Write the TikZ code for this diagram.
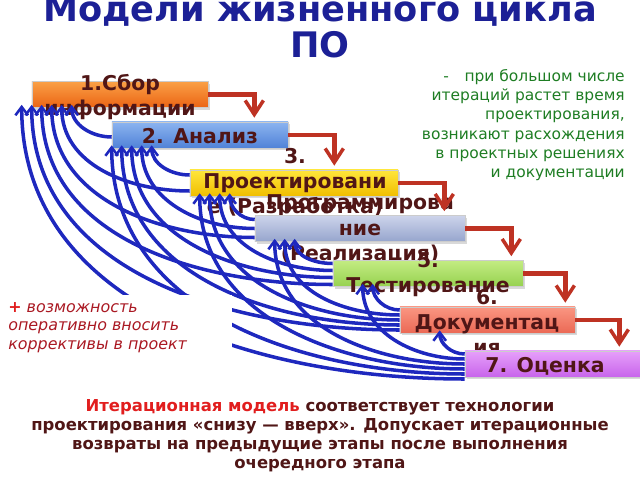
\documentclass[tikz,border=0pt]{standalone}
\usepackage{fontspec}
\setmainfont{DejaVu Sans}
\usetikzlibrary{arrows.meta,calc,shadows}

\definecolor{titleblue}{RGB}{28,32,150}
\definecolor{stagetext}{RGB}{80,22,22}
\definecolor{loopblue}{RGB}{30,40,190}
\definecolor{stepred}{RGB}{190,50,35}
\definecolor{notegreen}{RGB}{30,125,35}
\definecolor{notered}{RGB}{170,25,35}
\definecolor{hotred}{RGB}{225,30,30}

\tikzset{
  stage/.style={draw=black!20, minimum height=0.65cm, inner sep=0pt,
    drop shadow={opacity=0.3,shadow xshift=1.5pt,shadow yshift=-1.5pt}},
  stagelabel/.style={font=\bfseries\fontsize{14.5}{17.8}\selectfont, text=stagetext, align=center, inner sep=0pt},
  backloop/.style={loopblue, line width=2.5pt, -{Straight Barb[length=6pt,width=9pt,line width=1.8pt]}},
  nextstep/.style={stepred, line width=3.5pt, -{Straight Barb[length=10pt,width=13pt,line width=2.5pt]}},
}

\begin{document}
\begin{tikzpicture}[x=0.025cm,y=-0.025cm]
        \useasboundingbox (0,0) rectangle (640,480);
        \node[font=\bfseries\fontsize{25}{25.6}\selectfont, text=titleblue, align=center] (title) at (320,26.5) {Модели жизненного цикла\\ПО};
        % stages
        \node[stage, top color={rgb,255:red,250;green,160;blue,70}, bottom color={rgb,255:red,235;green,100;blue,20}, minimum width=4.4cm] (b1) at (120,94.5) {};
        \node[stagelabel] (t1) at (120,97) {1.Сбор\\информации};
        \node[stage, top color={rgb,255:red,140;green,180;blue,240}, bottom color={rgb,255:red,80;green,130;blue,215}, minimum width=4.4cm] (b2) at (200,135) {};
        \node[stagelabel] (t2) at (200,136) {2. Анализ};
        \node[stage, top color={rgb,255:red,255;green,230;blue,60}, bottom color={rgb,255:red,240;green,190;blue,0}, minimum width=5.2cm] (b3) at (294,183) {};
        \node[stagelabel] (t3) at (295,183) {3.\\Проектировани\\е (Разработка)};
        \node[stage, top color={rgb,255:red,205;green,212;blue,235}, bottom color={rgb,255:red,150;green,165;blue,205}, minimum width=5.25cm] (b4) at (360,228.5) {};
        \node[stagelabel] (t4) at (360,229) {Программирова\\ние\\(Реализация)};
        \node[stage, top color={rgb,255:red,195;green,235;blue,130}, bottom color={rgb,255:red,150;green,210;blue,80}, minimum width=4.75cm] (b5) at (428,273.5) {};
        \node[stagelabel] (t5) at (428,275) {5.\\Тестирование};
        \node[stage, top color={rgb,255:red,250;green,150;blue,130}, bottom color={rgb,255:red,235;green,105;blue,85}, minimum width=4.375cm] (b6) at (487.5,320) {};
        \node[stagelabel] (t6) at (487,322) {6.\\Документац\\ия};
        \node[stage, top color={rgb,255:red,230;green,160;blue,250}, bottom color={rgb,255:red,200;green,100;blue,235}, minimum width=4.375cm] (b7) at (552.5,364) {};
        \node[stagelabel] (t7) at (545,366) {7. Оценка};
        % forward steps
        \coordinate (r1) at ($(b1.east)+(46,0)$);
        \coordinate (r2) at ($(b2.east)+(46,0)$);
        \coordinate (r3) at ($(b3.east)+(46,0)$);
        \coordinate (r4) at ($(b4.east)+(46,0)$);
        \coordinate (r5) at ($(b5.east)+(42,0)$);
        \coordinate (r6) at ($(b6.east)+(44,0)$);
        \draw[nextstep] (b1.east) -- (r1) -- ($(r1 |- b2.north)+(0,-4)$);
        \draw[nextstep] (b2.east) -- (r2) -- ($(r2 |- b3.north)+(0,-4)$);
        \draw[nextstep] (b3.east) -- (r3) -- ($(r3 |- b4.north)+(0,-4)$);
        \draw[nextstep] (b4.east) -- (r4) -- ($(r4 |- b5.north)+(0,-4)$);
        \draw[nextstep] (b5.east) -- (r5) -- ($(r5 |- b6.north)+(0,-4)$);
        \draw[nextstep] (b6.east) -- (r6) -- ($(r6 |- b7.north)+(0,-4)$);
        % returns to earlier stages
        \draw[backloop] ($(b2.west)+(0,2)$) to[out=180,in=-90] ($(b1.south west)+(40,-3)$);
        \draw[backloop] ($(b3.west)+(0,8)$) to[out=180,in=-90] ($(b1.south west)+(30,-3)$);
        \draw[backloop] ($(b4.west)+(0,9)$) to[out=180,in=-90] ($(b1.south west)+(20,-3)$);
        \draw[backloop] ($(b5.west)+(0,11)$) to[out=180,in=-90] ($(b1.south west)+(10,-3)$);
        \draw[backloop] ($(b6.west)+(0,10)$) to[out=180,in=-90] ($(b1.south west)+(0,-3)$);
        \draw[backloop] ($(b7.west)+(0,15)$) to[out=180,in=-90] ($(b1.south west)+(-10,-3)$);
        \draw[backloop] ($(b3.west)+(0,-8)$) to[out=180,in=-90] ($(b2.south west)+(40,-3)$);
        \draw[backloop] ($(b4.west)+(0,0)$) to[out=180,in=-90] ($(b2.south west)+(30,-3)$);
        \draw[backloop] ($(b5.west)+(0,4)$) to[out=180,in=-90] ($(b2.south west)+(20,-3)$);
        \draw[backloop] ($(b6.west)+(0,5)$) to[out=180,in=-90] ($(b2.south west)+(10,-3)$);
        \draw[backloop] ($(b7.west)+(0,10)$) to[out=180,in=-90] ($(b2.south west)+(0,-3)$);
        \draw[backloop] ($(b4.west)+(0,-9)$) to[out=180,in=-90] ($(b3.south west)+(40,-3)$);
        \draw[backloop] ($(b5.west)+(0,-3)$) to[out=180,in=-90] ($(b3.south west)+(30,-3)$);
        \draw[backloop] ($(b6.west)+(0,0)$) to[out=180,in=-90] ($(b3.south west)+(20,-3)$);
        \draw[backloop] ($(b7.west)+(0,5)$) to[out=180,in=-90] ($(b3.south west)+(10,-3)$);
        \draw[backloop] ($(b5.west)+(0,-10)$) to[out=180,in=-90] ($(b4.south west)+(40,-3)$);
        \draw[backloop] ($(b6.west)+(0,-5)$) to[out=180,in=-90] ($(b4.south west)+(30,-3)$);
        \draw[backloop] ($(b7.west)+(0,0)$) to[out=180,in=-90] ($(b4.south west)+(20,-3)$);
        \draw[backloop] ($(b6.west)+(0,-10)$) to[out=180,in=-90] ($(b5.south west)+(40,-3)$);
        \draw[backloop] ($(b7.west)+(0,-5)$) to[out=180,in=-90] ($(b5.south west)+(30,-3)$);
        \draw[backloop] ($(b7.west)+(0,-10)$) to[out=180,in=-90] ($(b6.south west)+(40,-3)$);
        % notes
        \node[anchor=north east, align=right, inner sep=0pt, text=notegreen, font=\fontsize{11}{13.7}\selectfont] (cons) at (625,69) {-\hspace{1em}при большом числе\\итераций растет время\\проектирования,\\возникают расхождения\\в проектных решениях\\и документации};
        \fill[white] (0,295) rectangle (232,392);
        \node[anchor=north west, align=left, inner sep=0pt, text=notered, font=\itshape\fontsize{11.3}{13.2}\selectfont] (pros) at (8,302) {{\upshape\bfseries\color{hotred}+} возможность\\оперативно вносить\\коррективы в проект};
        \node[align=center, inner sep=0pt, text=stagetext, font=\bfseries\fontsize{11.7}{13.5}\selectfont] (summary) at (320,436) {{\color{hotred}Итерационная модель} соответствует технологии\\проектирования «снизу — вверх». Допускает итерационные\\возвраты на предыдущие этапы после выполнения\\очередного этапа};
    \end{tikzpicture}
\end{document}
